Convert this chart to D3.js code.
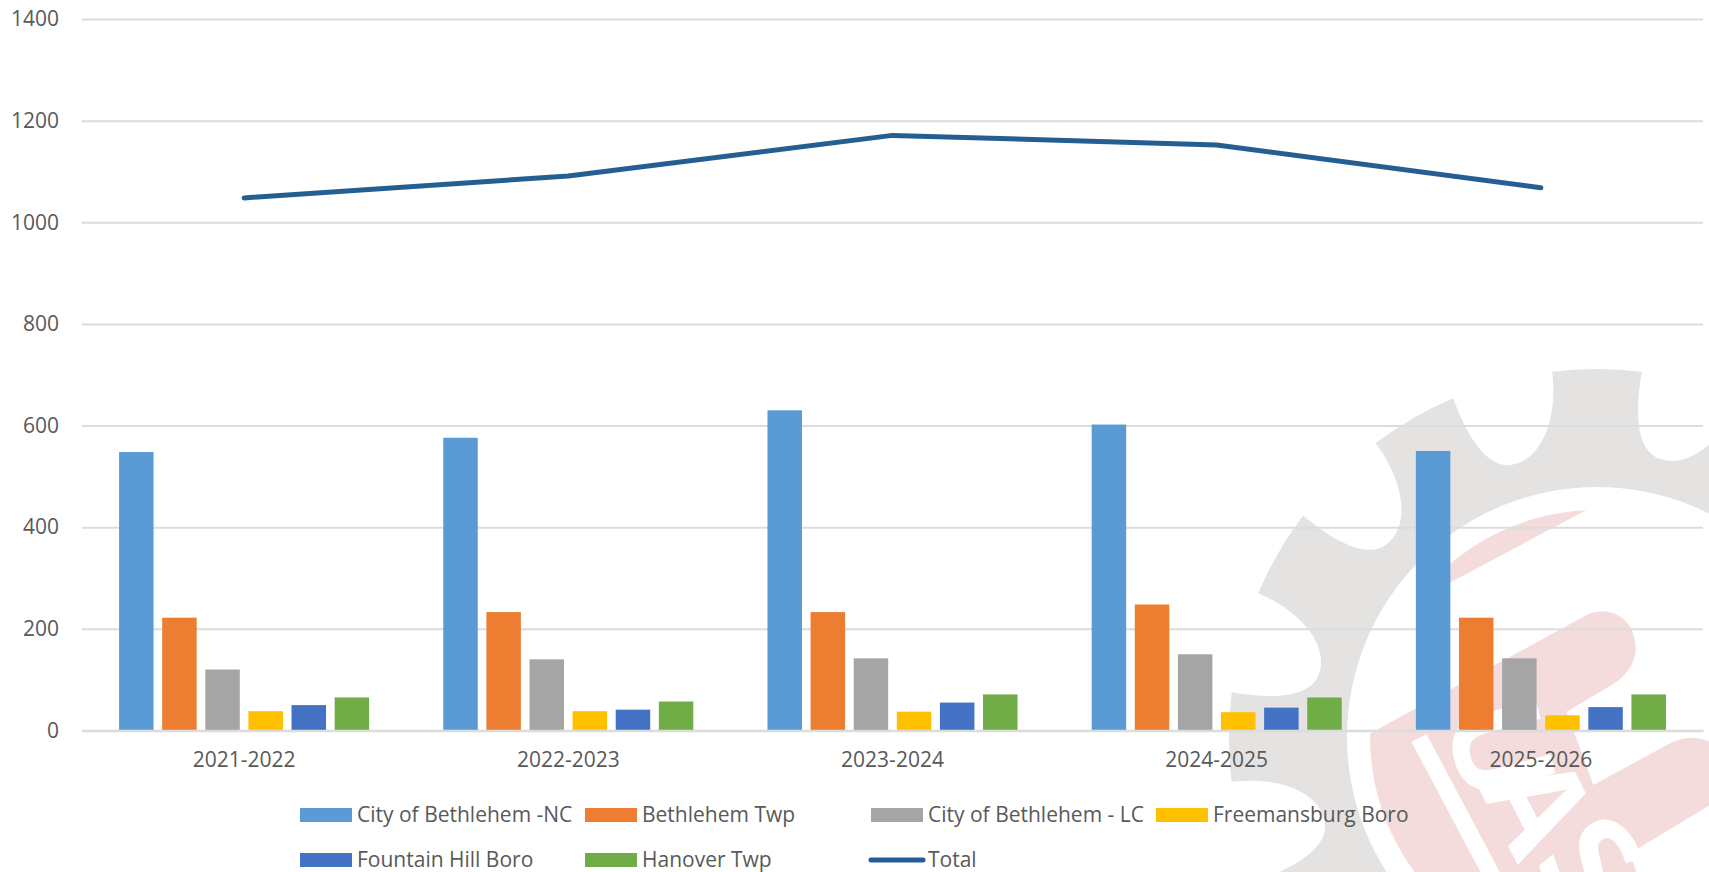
<!DOCTYPE html>
<html>
<head>
<meta charset="utf-8">
<title>Enrollment by municipality</title>
<script src="https://cdnjs.cloudflare.com/ajax/libs/d3/7.8.5/d3.min.js"></script>
<style>
  html, body { margin: 0; padding: 0; background: #fff; overflow: hidden; }
  svg { display: block; }
  text { font-family: "Open Sans", sans-serif; fill: #595959; }
</style>
</head>
<body>
<svg id="chart" width="1709" height="872"></svg>
<script>
// Chart values
const years = ["2021-2022", "2022-2023", "2023-2024", "2024-2025", "2025-2026"];
const seriesNames = ["City of Bethlehem -NC", "Bethlehem Twp", "City of Bethlehem - LC", "Freemansburg Boro", "Fountain Hill Boro", "Hanover Twp"];
const cityNC = [548, 576, 630, 602, 550];
const bethlehemTwp = [222, 233, 233, 248, 222];
const cityLC = [120, 140, 142, 150, 142];
const freemansburg = [38, 38, 37, 36, 30];
const fountainHill = [50, 41, 55, 45, 46];
const hanoverTwp = [65, 57, 71, 65, 71];
const total = [1048, 1091, 1171, 1152, 1068];
const totalName = "Total";
const yTicks = [0, 200, 400, 600, 800, 1000, 1200, 1400];

const seriesValues = [cityNC, bethlehemTwp, cityLC, freemansburg, fountainHill, hanoverTwp];
const seriesColors = ["#5b9bd5", "#ed7d31", "#a5a5a5", "#ffc000", "#4472c4", "#70ad47"];
const lineColor = "#255e91";
const labelSize = 21;

const svg = d3.select("#chart");
const plotLeft = 82, plotRight = 1703, plotTop = 19, plotBottom = 730.5;

const x0 = d3.scaleBand().domain(years).range([plotLeft, plotRight]);
const x1 = d3.scaleBand().domain(seriesNames).range([0, x0.bandwidth()])
  .paddingInner(0.2).paddingOuter(0.86);
const y = d3.scaleLinear().domain([0, 1400]).range([plotBottom, plotTop]);

// Faded emblem behind the plot: a twelve-tooth gear ring around a red badge
const emblem = svg.append("g").attr("class", "emblem");
const cx = 1597, cy = 737, gearOuter = 368, gearInner = 250, notchFloor = 285;
const polar = (r, deg) => {
  const a = (deg - 90) * Math.PI / 180;
  return [cx + r * Math.cos(a), cy + r * Math.sin(a)];
};
let gearPath = "";
d3.range(12).forEach(i => {
  const c = i * 30, neck = gearOuter - 50;
  gearPath += (i === 0 ? `M${polar(gearOuter, c - 7)}` : "") +
    `A${gearOuter},${gearOuter} 0 0 1 ${polar(gearOuter, c + 7)}` +
    `C${polar(neck, c + 6.5)} ${polar(notchFloor, c + 8.5)} ${polar(notchFloor, c + 13.5)}` +
    `C${polar(notchFloor, c + 18.5)} ${polar(neck, c + 23)} ${polar(gearOuter, c + 23)}`;
});
gearPath += `Z M${cx - gearInner},${cy}A${gearInner},${gearInner} 0 1 0 ${cx + gearInner},${cy}` +
  `A${gearInner},${gearInner} 0 1 0 ${cx - gearInner},${cy}Z`;
emblem.append("path").attr("d", gearPath).attr("fill", "#e4e3e2").attr("fill-rule", "evenodd");

const defs = svg.append("defs");
defs.append("clipPath").attr("id", "badge").append("circle")
  .attr("cx", cx).attr("cy", cy).attr("r", 227);

// Badge artwork is laid out relative to its top-left corner
const p = (u, v) => `${1350 + u / 3},${480 + v / 3}`;
const badge = emblem.append("g").attr("clip-path", "url(#badge)");
const badgeRed = "#f4dcdd";
badge.append("path").attr("fill", badgeRed).attr("d",
  `M${p(725, 82)}C${p(520, 100)} ${p(380, 170)} ${p(240, 270)}L${p(240, 340)}Z`);
badge.append("path").attr("fill", badgeRed).attr("d",
  `M${p(-100, 848)}L${p(700, 410)}C${p(760, 375)} ${p(850, 395)} ${p(857, 500)}` +
  `C${p(860, 555)} ${p(815, 597)} ${p(790, 612)}L${p(650, 695)}L${p(730, 915)}L${p(960, 790)}` +
  `C${p(1020, 762)} ${p(1060, 770)} ${p(1130, 810)}L${p(1130, 945)}L${p(840, 1120)}` +
  `L${p(900, 1300)}L${p(-100, 1300)}Z`);
badge.append("path").attr("fill", "none").attr("stroke", "#fff").attr("stroke-width", 17)
  .attr("d", "M1419,738L1497,885");
// Lettering follows the curve of the badge, one placement per glyph
badge.append("text")
  .attr("x", "1443 1477 1532").attr("y", "713 785 864").attr("rotate", "75 63 50")
  .attr("font-size", 130).attr("font-weight", 700)
  .style("fill", "#fff").text("UAS");

// Horizontal gridlines and value labels
const yAxis = d3.axisLeft(y).tickValues(yTicks).tickSize(-(plotRight - plotLeft)).tickPadding(23).tickFormat(d3.format("d"));
const yG = svg.append("g").attr("transform", `translate(${plotLeft},0)`).call(yAxis);
yG.select(".domain").remove();
yG.selectAll("line").attr("stroke", "#dcdcdc").attr("stroke-width", 2);
yG.selectAll("text").attr("font-size", labelSize).style("fill", "#595959").style("font-family", '"Open Sans", sans-serif');

// One group of bars per school year
const bars = svg.append("g").selectAll("g").data(seriesNames).join("g")
  .attr("fill", (d, i) => seriesColors[i]);
bars.selectAll("rect").data((d, i) => seriesValues[i].map((v, j) => ({ year: years[j], name: d, v })))
  .join("rect")
  .attr("x", d => x0(d.year) + x1(d.name))
  .attr("width", x1.bandwidth())
  .attr("y", d => y(d.v))
  .attr("height", d => y(0) - y(d.v));

// Category axis
const xAxis = d3.axisBottom(x0).tickSize(0).tickPadding(22);
const xG = svg.append("g").attr("transform", `translate(0,${plotBottom})`).call(xAxis);
xG.select(".domain").attr("stroke", "#dcdcdc").attr("stroke-width", 2.4);
xG.selectAll("text").attr("font-size", labelSize).style("fill", "#595959").style("font-family", '"Open Sans", sans-serif');

// Total across all municipalities
const line = d3.line().x((d, i) => x0(years[i]) + x0.bandwidth() / 2).y(d => y(d));
svg.append("path").datum(total).attr("d", line).attr("fill", "none")
  .attr("stroke", lineColor).attr("stroke-width", 5).attr("stroke-linecap", "round").attr("stroke-linejoin", "round");

// Legend, two rows
const legendSlots = [[300, 815], [585, 815], [871, 815], [1156, 815], [300, 860], [585, 860]];
const legend = svg.append("g");
seriesNames.forEach((name, i) => {
  const [lx, ly] = legendSlots[i];
  legend.append("rect").attr("x", lx).attr("y", ly - 7).attr("width", 52).attr("height", 14).attr("fill", seriesColors[i]);
  legend.append("text").attr("x", lx + 57).attr("y", ly).attr("dy", "0.34em").attr("font-size", labelSize).text(name);
});
legend.append("line").attr("x1", 871).attr("x2", 923).attr("y1", 860).attr("y2", 860)
  .attr("stroke", lineColor).attr("stroke-width", 5).attr("stroke-linecap", "round");
legend.append("text").attr("x", 928).attr("y", 860).attr("dy", "0.34em").attr("font-size", labelSize).text(totalName);
</script>
</body>
</html>
